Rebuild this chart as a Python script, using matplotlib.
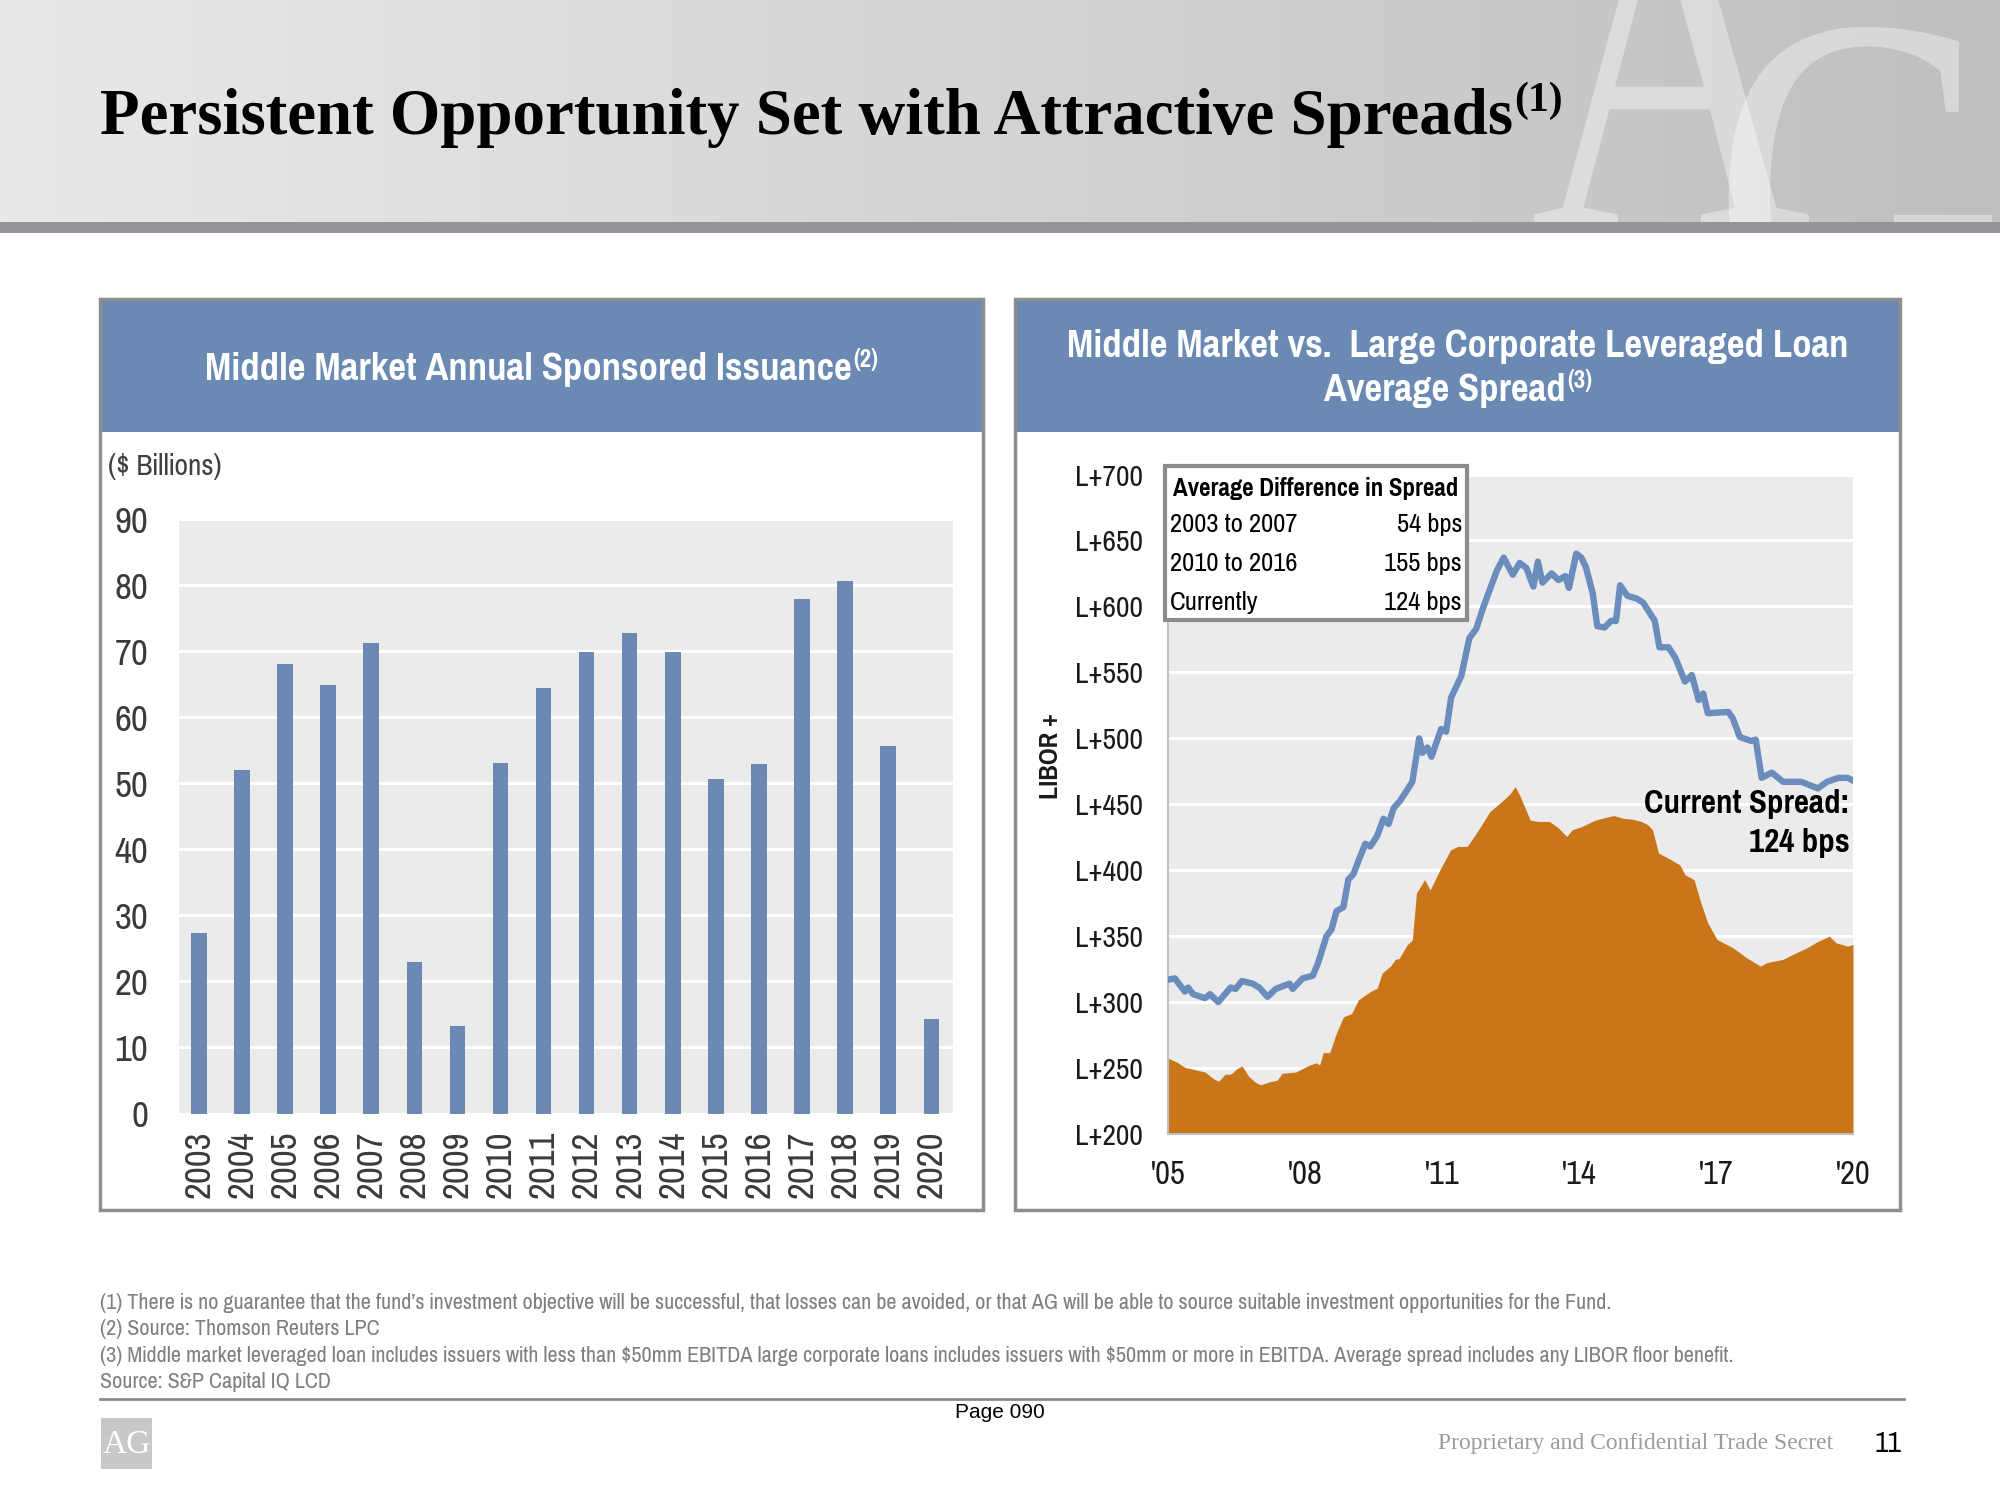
import numpy as np
import matplotlib
matplotlib.use('Agg')
import matplotlib.pyplot as plt
from matplotlib.patches import Rectangle, PathPatch
from matplotlib.textpath import TextPath
from matplotlib.font_manager import FontProperties
from matplotlib.transforms import Affine2D
from matplotlib.colors import LinearSegmentedColormap

NARROW = ['Pragati Narrow', 'Roboto Condensed', 'DejaVu Sans']
SANS = ['Liberation Sans', 'DejaVu Sans']
SERIF = ['Liberation Serif', 'DejaVu Serif']

BAR_BLUE = '#6a8ab4'
LINE_BLUE = '#6b8dbd'
ORANGE = '#c87619'
PLOT_BG = '#ebebeb'

# left chart: middle market annual sponsored issuance ($bn)
years = [str(y) for y in range(2003, 2021)]
issuance = [27.4, 52.0, 68.0, 64.9, 71.2, 22.9, 13.3, 53.0, 64.4, 69.9,
            72.8, 69.8, 50.6, 52.9, 77.9, 80.6, 55.7, 14.3]

# right chart: middle market spread (line), large corporate spread (area)
mm_x = [2005.0, 2005.15, 2005.37, 2005.44, 2005.55, 2005.81, 2005.92, 2006.1,
        2006.37, 2006.48, 2006.62, 2006.85, 2007.0, 2007.18, 2007.36, 2007.66,
        2007.73, 2007.95, 2008.17, 2008.28, 2008.47, 2008.58, 2008.69, 2008.84,
        2008.95, 2009.06, 2009.17, 2009.32, 2009.43, 2009.58, 2009.72, 2009.83,
        2009.94, 2010.09, 2010.24, 2010.35, 2010.5, 2010.57, 2010.68, 2010.77,
        2010.98, 2011.09, 2011.2, 2011.42, 2011.6, 2011.75, 2011.9, 2012.05,
        2012.2, 2012.35, 2012.55, 2012.7, 2012.85, 2013.0, 2013.1, 2013.2,
        2013.4, 2013.55, 2013.7, 2013.78, 2013.94, 2014.05, 2014.15, 2014.3,
        2014.4, 2014.56, 2014.7, 2014.81, 2014.9, 2015.06, 2015.26, 2015.4,
        2015.55, 2015.66, 2015.76, 2015.96, 2016.11, 2016.32, 2016.47, 2016.62,
        2016.72, 2016.82, 2017.27, 2017.37, 2017.52, 2017.77, 2017.87, 2018.0,
        2018.22, 2018.47, 2018.87, 2019.23, 2019.43, 2019.68, 2019.88, 2020.0]
mm_spread = [317, 318, 308, 311, 306, 303, 306, 300, 311, 310, 316, 314, 311,
             304, 310, 314, 310, 318, 320, 329, 350, 355, 369, 372, 393, 397,
             407, 420, 418, 426, 439, 435, 447, 453, 461, 467, 500, 489, 493,
             486, 507, 505, 531, 547, 576, 583, 599, 613, 627, 637, 624, 633,
             629, 615, 634, 618, 625, 620, 623, 614, 640, 637, 630, 610, 585,
             584, 589, 589, 616, 608, 606, 603, 595, 589, 569, 569, 561, 543,
             548, 529, 534, 519, 520, 515, 501, 498, 499, 470, 474, 467, 467,
             462, 467, 470, 470, 468]

lc_x = [2005.0, 2005.22, 2005.37, 2005.59, 2005.81, 2006.0, 2006.11, 2006.25,
        2006.37, 2006.51, 2006.62, 2006.77, 2006.92, 2007.03, 2007.21, 2007.39,
        2007.5, 2007.8, 2008.1, 2008.25, 2008.32, 2008.4, 2008.54, 2008.69,
        2008.84, 2009.02, 2009.17, 2009.43, 2009.58, 2009.69, 2009.87, 2009.98,
        2010.06, 2010.24, 2010.35, 2010.44, 2010.62, 2010.74, 2010.95, 2011.19,
        2011.35, 2011.55, 2011.75, 2012.05, 2012.35, 2012.5, 2012.6, 2012.7,
        2012.93, 2013.1, 2013.35, 2013.55, 2013.73, 2013.85, 2014.05, 2014.36,
        2014.66, 2014.76, 2014.96, 2015.16, 2015.36, 2015.51, 2015.61, 2015.74,
        2015.96, 2016.21, 2016.32, 2016.52, 2016.67, 2016.82, 2017.02, 2017.37,
        2017.67, 2017.97, 2018.12, 2018.47, 2018.67, 2018.98, 2019.23, 2019.48,
        2019.63, 2019.88, 2020.0]
lc_spread = [257.5, 254, 250.5, 248.8, 247, 241.8, 240, 245.3, 245.3, 249.5,
             251.6, 243.6, 239, 237.3, 239.4, 240.8, 246, 247, 252.3, 254,
             252.3, 261.7, 261.7, 276.7, 288.8, 291.3, 301.7, 308, 310.5, 322,
             327.2, 332.4, 333, 343.6, 347, 382.7, 392.8, 385, 400, 415.5,
             418, 418, 428, 444.5, 453.3, 458.3, 463.3, 457, 438, 437,
             437, 432, 425.6, 430.6, 433, 438, 440.7, 441.4, 439.4, 438.7,
             437, 434.4, 430.6, 413, 409, 404, 396.6, 392.8, 375, 360,
             347.5, 341.2, 333.6, 327.3, 330, 332.4, 336, 341, 346, 350,
             345, 342.4, 343.7]

x_ticks = [2005, 2008, 2011, 2014, 2017, 2020]
x_ticklabels = ["'05", "'08", "'11", "'14", "'17", "'20"]
y_ticks = list(range(200, 701, 50))

table_rows = [('2003 to 2007', '54 bps'), ('2010 to 2016', '155 bps'),
              ('Currently', '124 bps')]

footnotes = [
    "(1) There is no guarantee that the fund\u2019s investment objective will be successful, that losses can be avoided, or that AG will be able to source suitable investment opportunities for the Fund.",
    "(2) Source: Thomson Reuters LPC",
    "(3) Middle market leveraged loan includes issuers with less than $50mm EBITDA large corporate loans includes issuers with $50mm or more in EBITDA. Average spread includes any LIBOR floor benefit.",
    "Source: S&P Capital IQ LCD",
]

W, H = 2000, 1500
fig = plt.figure(figsize=(20, 15), dpi=100)
fig.patch.set_facecolor('white')
renderer = fig.canvas.get_renderer()


def width_of(t):
    return t.get_window_extent(renderer).width


# scale narrow font sizes so text widths match the slide
probe = fig.text(0, 0, 'Middle Market Annual Sponsored Issuance', fontsize=28,
                 family=NARROW, fontweight='bold')
kb = 648.0 / width_of(probe)
probe.remove()
probe = fig.text(0, 0, footnotes[0], fontsize=15, family=NARROW, parse_math=False)
kr = 1516.0 / width_of(probe)
probe.remove()

# background axes in pixel coordinates (y down)
bg = fig.add_axes([0, 0, 1, 1])
hdr_cmap = LinearSegmentedColormap.from_list('hdr', ['#e9e9e9', '#d4d4d4', '#bfbfbf'])
bg.imshow(np.linspace(0, 1, 256)[None, :], extent=(0, W, 222, 0), cmap=hdr_cmap,
          aspect='auto', zorder=0)
bg.set_xlim(0, W)
bg.set_ylim(H, 0)
bg.axis('off')
bg.add_patch(Rectangle((0, 222), W, 11, fc='#939598', ec='none', zorder=1))

# faded AG watermark in the header
clip = Rectangle((0, 0), W, 222, transform=bg.transData)
wm_font = FontProperties(family=SERIF)
for ch, sx, sy, tx, ty in [('A', 390, 520, 1530, 228), ('G', 405, 500, 1712, 358)]:
    path = TextPath((0, 0), ch, size=1, prop=wm_font)
    path = Affine2D().scale(sx, -sy).translate(tx, ty).transform_path(path)
    p = PathPatch(path, fc='white', ec='none', alpha=0.38, zorder=0.5)
    bg.add_patch(p)
    p.set_clip_path(clip)


def text_sup(ax, cx, y, main, sup, size, sup_size, rise, align='center', **kw):
    t = ax.text(0, y, main, fontsize=size, va='baseline', ha='left', **kw)
    s = ax.text(0, y - rise, sup, fontsize=sup_size, va='baseline', ha='left', **kw)
    wm, ws = width_of(t), width_of(s)
    x0 = cx - (wm + ws) / 2 if align == 'center' else cx
    t.set_x(x0)
    s.set_x(x0 + wm + 1)


# slide title
text_sup(bg, 100, 134, 'Persistent Opportunity Set with Attractive Spreads', '(1)',
         46.7, 30, 23, align='left', family=SERIF, fontweight='bold', color='black')

# panels
for x0, x1 in [(99.5, 983), (1015, 1900)]:
    bg.add_patch(Rectangle((x0, 298.5), x1 - x0, 911.5, fc='white', ec='none', zorder=1))
    bg.add_patch(Rectangle((x0, 298.5), x1 - x0, 133.5, fc=BAR_BLUE, ec='none', zorder=2))
    bg.add_patch(Rectangle((x0, 298.5), x1 - x0, 911.5, fc='none', ec='#8e8e8e', lw=2.5, zorder=3))

hdr_kw = dict(family=NARROW, fontweight='bold', color='white', zorder=4)
text_sup(bg, 541, 380, 'Middle Market Annual Sponsored Issuance', '(2)', 28 * kb, 18 * kb, 13, **hdr_kw)
bg.text(1457.5, 357, 'Middle Market vs.  Large Corporate Leveraged Loan', fontsize=28 * kb,
        ha='center', va='baseline', **hdr_kw)
text_sup(bg, 1457.5, 401, 'Average Spread', '(3)', 28 * kb, 18 * kb, 13, **hdr_kw)

bg.text(108, 466, '($ Billions)', fontsize=20 * kr, family=NARROW, color='#404040',
        ha='left', va='center', zorder=4, parse_math=False)

# left chart
ax1 = fig.add_axes([178.6 / W, (H - 1113.5) / H, 774.2 / W, 594.5 / H])
ax1.set_facecolor(PLOT_BG)
xpos = np.arange(len(years))
ax1.bar(xpos, issuance, width=0.36, color=BAR_BLUE, zorder=3)
ax1.set_xlim(-0.47, len(years) - 0.5)
ax1.set_ylim(0, 90)
ax1.set_yticks(range(0, 91, 10))
ax1.set_xticks(xpos)
ax1.set_xticklabels(years, rotation=90)
ax1.set_axisbelow(True)
ax1.grid(axis='y', color='white', lw=2.2)
for s in ax1.spines.values():
    s.set_visible(False)
ax1.tick_params(length=0, labelcolor='#3a3a3a', labelsize=25 * kr)
ax1.tick_params(axis='x', pad=12.5)
ax1.tick_params(axis='y', pad=22)
for lab in ax1.get_xticklabels() + ax1.get_yticklabels():
    lab.set_family(NARROW)

# right chart
ax2 = fig.add_axes([1168 / W, (H - 1134) / H, 685 / W, 659.5 / H])
ax2.set_facecolor(PLOT_BG)
ax2.fill_between(lc_x, lc_spread, 200, color=ORANGE, lw=0, zorder=2)
ax2.plot(mm_x, mm_spread, color=LINE_BLUE, lw=4.6, zorder=3, solid_joinstyle='round')
ax2.set_xlim(2005, 2020)
ax2.set_ylim(200, 700)
ax2.set_yticks(y_ticks)
ax2.set_yticklabels(['L+%d' % v for v in y_ticks])
ax2.set_xticks(x_ticks)
ax2.set_xticklabels(x_ticklabels)
ax2.set_axisbelow(True)
ax2.grid(axis='y', color='white', lw=2.2)
ax2.spines['top'].set_visible(False)
ax2.spines['right'].set_visible(False)
for side in ('left', 'bottom'):
    ax2.spines[side].set_color('#c0c0c0')
    ax2.spines[side].set_linewidth(1.5)
ax2.tick_params(length=0, labelcolor='#1a1a1a')
ax2.tick_params(axis='y', labelsize=20 * kr, pad=18)
ax2.tick_params(axis='x', labelsize=22 * kr, pad=19)
for lab in ax2.get_xticklabels() + ax2.get_yticklabels():
    lab.set_family(NARROW)

# overlay: table, annotations, footer
ov = fig.add_axes([0, 0, 1, 1], zorder=10)
ov.set_xlim(0, W)
ov.set_ylim(H, 0)
ov.axis('off')

ov.text(1050, 756, 'LIBOR +', rotation=90, fontsize=19 * kb, fontweight='bold',
        family=NARROW, ha='center', va='center', color='#1a1a1a')

ov.add_patch(Rectangle((1165, 466), 302, 154, fc='white', ec='#8c8c8c', lw=3))
ov.text(1316, 488, 'Average Difference in Spread', fontsize=18 * kb, fontweight='bold',
        family=NARROW, ha='center', va='center', color='black')
for i, (lbl, val) in enumerate(table_rows):
    yy = 525 + i * 38.5
    ov.text(1170, yy, lbl, fontsize=18 * kr, family=NARROW, ha='left', va='center', color='black')
    ov.text(1462, yy, val, fontsize=18 * kr, family=NARROW, ha='right', va='center', color='black')

ov.text(1850, 804, 'Current Spread:', fontsize=23.8 * kb, fontweight='bold', family=NARROW,
        ha='right', va='center', color='black')
ov.text(1850, 843, '124 bps', fontsize=23.8 * kb, fontweight='bold', family=NARROW,
        ha='right', va='center', color='black')

for i, line in enumerate(footnotes):
    ov.text(100, 1303 + i * 26.3, line, fontsize=15 * kr, family=NARROW, color='#7f7f7f',
            ha='left', va='center', parse_math=False)

ov.plot([99.5, 1904], [1399, 1399], color='#8c8c8c', lw=2)
ov.text(1000, 1412, 'Page 090', fontsize=15, family=SANS, ha='center', va='center',
        color='black')
ov.add_patch(Rectangle((101, 1418), 51, 51, fc='#c8c8c8', ec='none'))
ov.text(126.5, 1445, 'AG', fontsize=24, family=SERIF, color='white',
        ha='center', va='center')
ov.text(1833, 1444, 'Proprietary and Confidential Trade Secret', fontsize=17,
        family=SERIF, color='#9b9b9b', ha='right', va='center')
ov.text(1888, 1444, '11', fontsize=20 * kr, family=NARROW, color='black',
        ha='center', va='center')

fig.savefig('out.png', dpi=100, facecolor='white')
